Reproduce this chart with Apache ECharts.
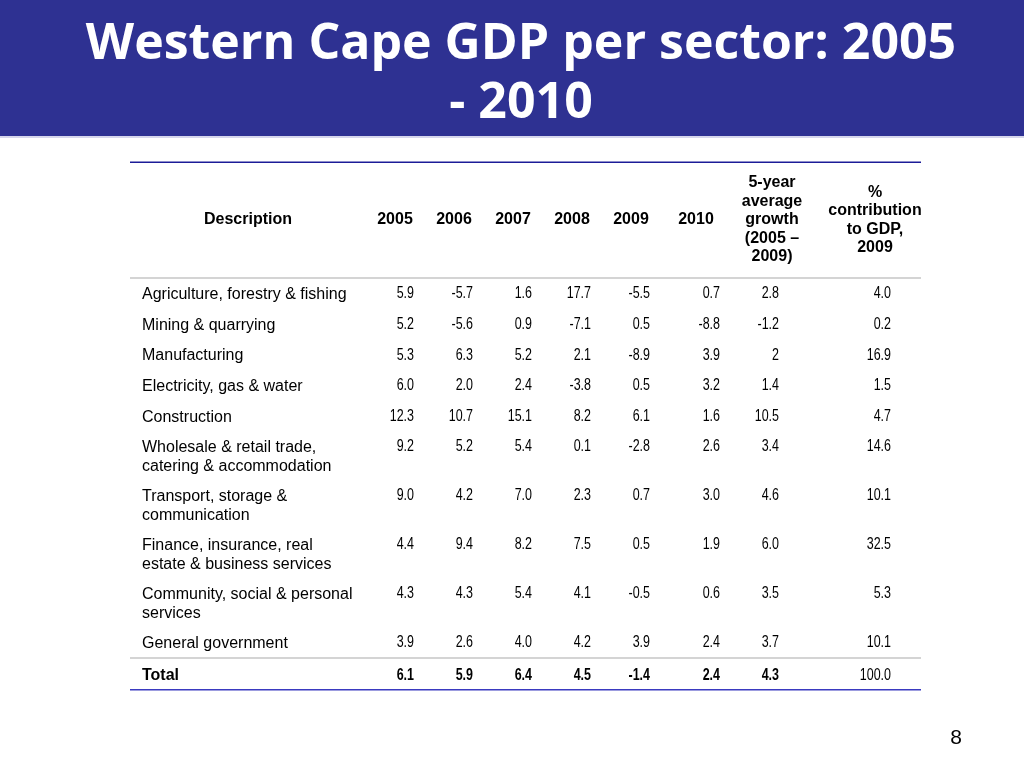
<!DOCTYPE html>
<html><head><meta charset="utf-8">
<script src="https://cdn.jsdelivr.net/npm/echarts@6/dist/echarts.min.js"></script>
<style>html,body{margin:0;padding:0;background:#fff}#c{width:1024px;height:768px}</style>
</head><body><div id="c"></div>
<script>
const titleLines = ['Western Cape GDP per sector: 2005', '- 2010'];
const headers = ['Description', '2005', '2006', '2007', '2008', '2009', '2010',
  '5-year\naverage\ngrowth\n(2005 –\n2009)', '%\ncontribution\nto GDP,\n2009'];
const sectors = ['Agriculture, forestry & fishing', 'Mining & quarrying', 'Manufacturing',
  'Electricity, gas & water', 'Construction', 'Wholesale & retail trade,\ncatering & accommodation',
  'Transport, storage &\ncommunication', 'Finance, insurance, real\nestate & business services',
  'Community, social & personal\nservices', 'General government', 'Total'];
const y2005 = ['5.9','5.2','5.3','6.0','12.3','9.2','9.0','4.4','4.3','3.9','6.1'];
const y2006 = ['-5.7','-5.6','6.3','2.0','10.7','5.2','4.2','9.4','4.3','2.6','5.9'];
const y2007 = ['1.6','0.9','5.2','2.4','15.1','5.4','7.0','8.2','5.4','4.0','6.4'];
const y2008 = ['17.7','-7.1','2.1','-3.8','8.2','0.1','2.3','7.5','4.1','4.2','4.5'];
const y2009 = ['-5.5','0.5','-8.9','0.5','6.1','-2.8','0.7','0.5','-0.5','3.9','-1.4'];
const y2010 = ['0.7','-8.8','3.9','3.2','1.6','2.6','3.0','1.9','0.6','2.4','2.4'];
const avgGrowth = ['2.8','-1.2','2','1.4','10.5','3.4','4.6','6.0','3.5','3.7','4.3'];
const contribution = ['4.0','0.2','16.9','1.5','4.7','14.6','10.1','32.5','5.3','10.1','100.0'];
const pageNumber = '8';

const cols = [y2005, y2006, y2007, y2008, y2009, y2010, avgGrowth, contribution];
const colRight = [414, 473, 532, 591, 650, 720, 779, 891];
const headCenter = [248, 395, 454, 513, 572, 631, 696, 772, 875];
const txtFont = 'Liberation Sans';

const els = [];
els.push({type:'rect', shape:{x:0,y:0,width:1024,height:136}, style:{fill:'#2E3192'}});
els.push({type:'rect', shape:{x:0,y:136,width:1024,height:2}, style:{fill:'#D6D6EC'}});
titleLines.forEach((t, i) => {
  els.push({type:'text', x:521, y:45 + i*59, style:{text:t, fill:'#fff', align:'center', verticalAlign:'middle',
    fontFamily:'Open Sans', fontWeight:'bold', fontSize:50}});
});
els.push({type:'rect', shape:{x:130,y:161.5,width:791,height:1.5}, style:{fill:'#1C1C98'}});
els.push({type:'rect', shape:{x:130,y:277,width:791,height:2}, style:{fill:'#D4D4D4'}});
els.push({type:'rect', shape:{x:130,y:657,width:791,height:2}, style:{fill:'#D4D4D4'}});
els.push({type:'rect', shape:{x:130,y:689,width:791,height:1.6}, style:{fill:'#3A3AC0'}});
headers.forEach((h, i) => {
  els.push({type:'text', x:headCenter[i], y:220, style:{text:h, fill:'#000', align:'center', verticalAlign:'middle',
    lineHeight:18.5, fontFamily:txtFont, fontWeight:'bold', fontSize:16}});
});
let y = 294;
sectors.forEach((s, r) => {
  if (r > 0) {
    const prevLines = sectors[r-1].split('\n').length;
    y += prevLines > 1 ? 49 : 30.6;
  }
  const isTotal = r === sectors.length - 1;
  const yy = isTotal ? y + 1.5 : y;
  els.push({type:'text', x:142, y:yy - 8.5, style:{text:s, fill:'#000', align:'left', verticalAlign:'top',
    lineHeight:18.5, fontFamily:txtFont, fontWeight:isTotal ? 'bold' : 'normal', fontSize:16}});
  cols.forEach((c, k) => {
    const bold = isTotal && k < 7;
    els.push({type:'text', x:colRight[k], y:yy, scaleX:0.78, originX:0, originY:0,
      style:{text:c[r], fill:'#000', align:'right', verticalAlign:'middle',
      fontFamily:txtFont, fontWeight:bold ? 'bold' : 'normal', fontSize:16}});
  });
});
els.push({type:'text', x:956, y:738, style:{text:pageNumber, fill:'#000', align:'center', verticalAlign:'middle',
  fontFamily:txtFont, fontSize:21}});

const chart = echarts.init(document.getElementById('c'), null, {renderer:'canvas'});
chart.setOption({backgroundColor:'#fff', animation:false, graphic:{elements:els}});
</script></body></html>
